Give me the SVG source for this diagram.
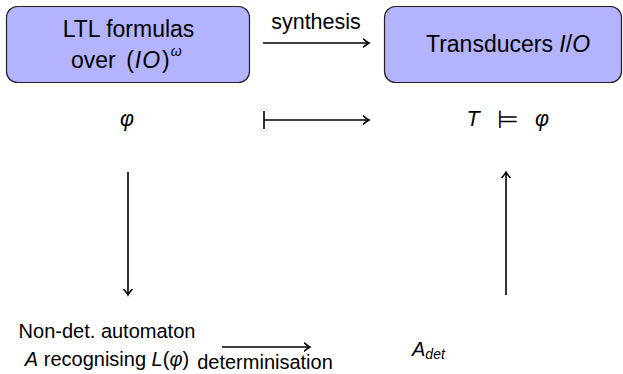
<svg xmlns="http://www.w3.org/2000/svg" width="623" height="374" viewBox="0 0 623 374">
  <style>
    text { font-family: "Liberation Sans", "DejaVu Sans", sans-serif; fill: #000; }
    .big { font-size: 23px; }
    .mid { font-size: 21.5px; }
    .small { font-size: 20px; }
    .it { font-style: italic; }
    .box { fill: #b3b3ff; stroke: #222; stroke-width: 1.2; }
    .edge { fill: none; stroke: #000; stroke-width: 1.6; }
  </style>
  <defs>
    <marker id="to" viewBox="-6 -5 8 10" markerWidth="8" markerHeight="10" refX="0.5" refY="0" orient="auto" markerUnits="userSpaceOnUse">
      <path d="M-5,-4 Q-1.5,-1 0.5,0 Q-1.5,1 -5,4" fill="none" stroke="#000" stroke-width="1.6" stroke-linecap="round"/>
    </marker>
  </defs>

  <g id="node-ltl">
    <rect class="box" x="6.5" y="6.5" width="243" height="76" rx="11"/>
    <text class="big" x="128.5" y="37" text-anchor="middle">LTL formulas</text>
    <text class="big" x="71" y="68">over <tspan dx="4">(</tspan><tspan class="it" dx="1">I</tspan><tspan class="it" dx="1">O</tspan><tspan dx="2">)</tspan><tspan dx="1" dy="-12" font-size="14" class="it">ω</tspan></text>
  </g>

  <g id="node-transducers">
    <rect class="box" x="384.5" y="6.5" width="237" height="76" rx="11"/>
    <text class="big" x="508" y="52" text-anchor="middle">Transducers <tspan class="it">I</tspan>/<tspan class="it">O</tspan></text>
  </g>

  <g id="node-phi">
    <text class="mid it" x="127" y="126" text-anchor="middle">φ</text>
  </g>

  <g id="node-models">
    <text class="mid it" x="473" y="126" text-anchor="middle">T</text>
    <text x="508" y="128" font-size="25" text-anchor="middle" font-family="DejaVu Sans, sans-serif">⊨</text>
    <text class="mid it" x="542" y="126" text-anchor="middle">φ</text>
  </g>

  <g id="node-automaton">
    <text class="small" x="107" y="338" text-anchor="middle">Non-det. automaton</text>
    <text class="small" x="107" y="366" text-anchor="middle"><tspan class="it">A</tspan> recognising <tspan class="it">L</tspan>(<tspan class="it">φ</tspan>)</text>
  </g>

  <g id="node-adet">
    <text class="small" x="412" y="356"><tspan class="it">A</tspan><tspan dy="3" font-size="14" class="it">det</tspan></text>
  </g>

  <g id="connectors">
    <line class="edge" x1="263" y1="43" x2="369" y2="43" marker-end="url(#to)"/>
    <text class="mid" x="316" y="29" text-anchor="middle">synthesis</text>

    <line class="edge" x1="264" y1="111" x2="264" y2="129"/>
    <line class="edge" x1="264" y1="120" x2="369" y2="120" marker-end="url(#to)"/>

    <line class="edge" x1="128" y1="172" x2="128" y2="295" marker-end="url(#to)"/>
    <line class="edge" x1="506" y1="295" x2="506" y2="172" marker-end="url(#to)"/>

    <line class="edge" x1="222" y1="347" x2="310" y2="347" marker-end="url(#to)"/>
    <text class="small" x="265" y="369" text-anchor="middle" font-size="19.5">determinisation</text>
  </g>
</svg>
